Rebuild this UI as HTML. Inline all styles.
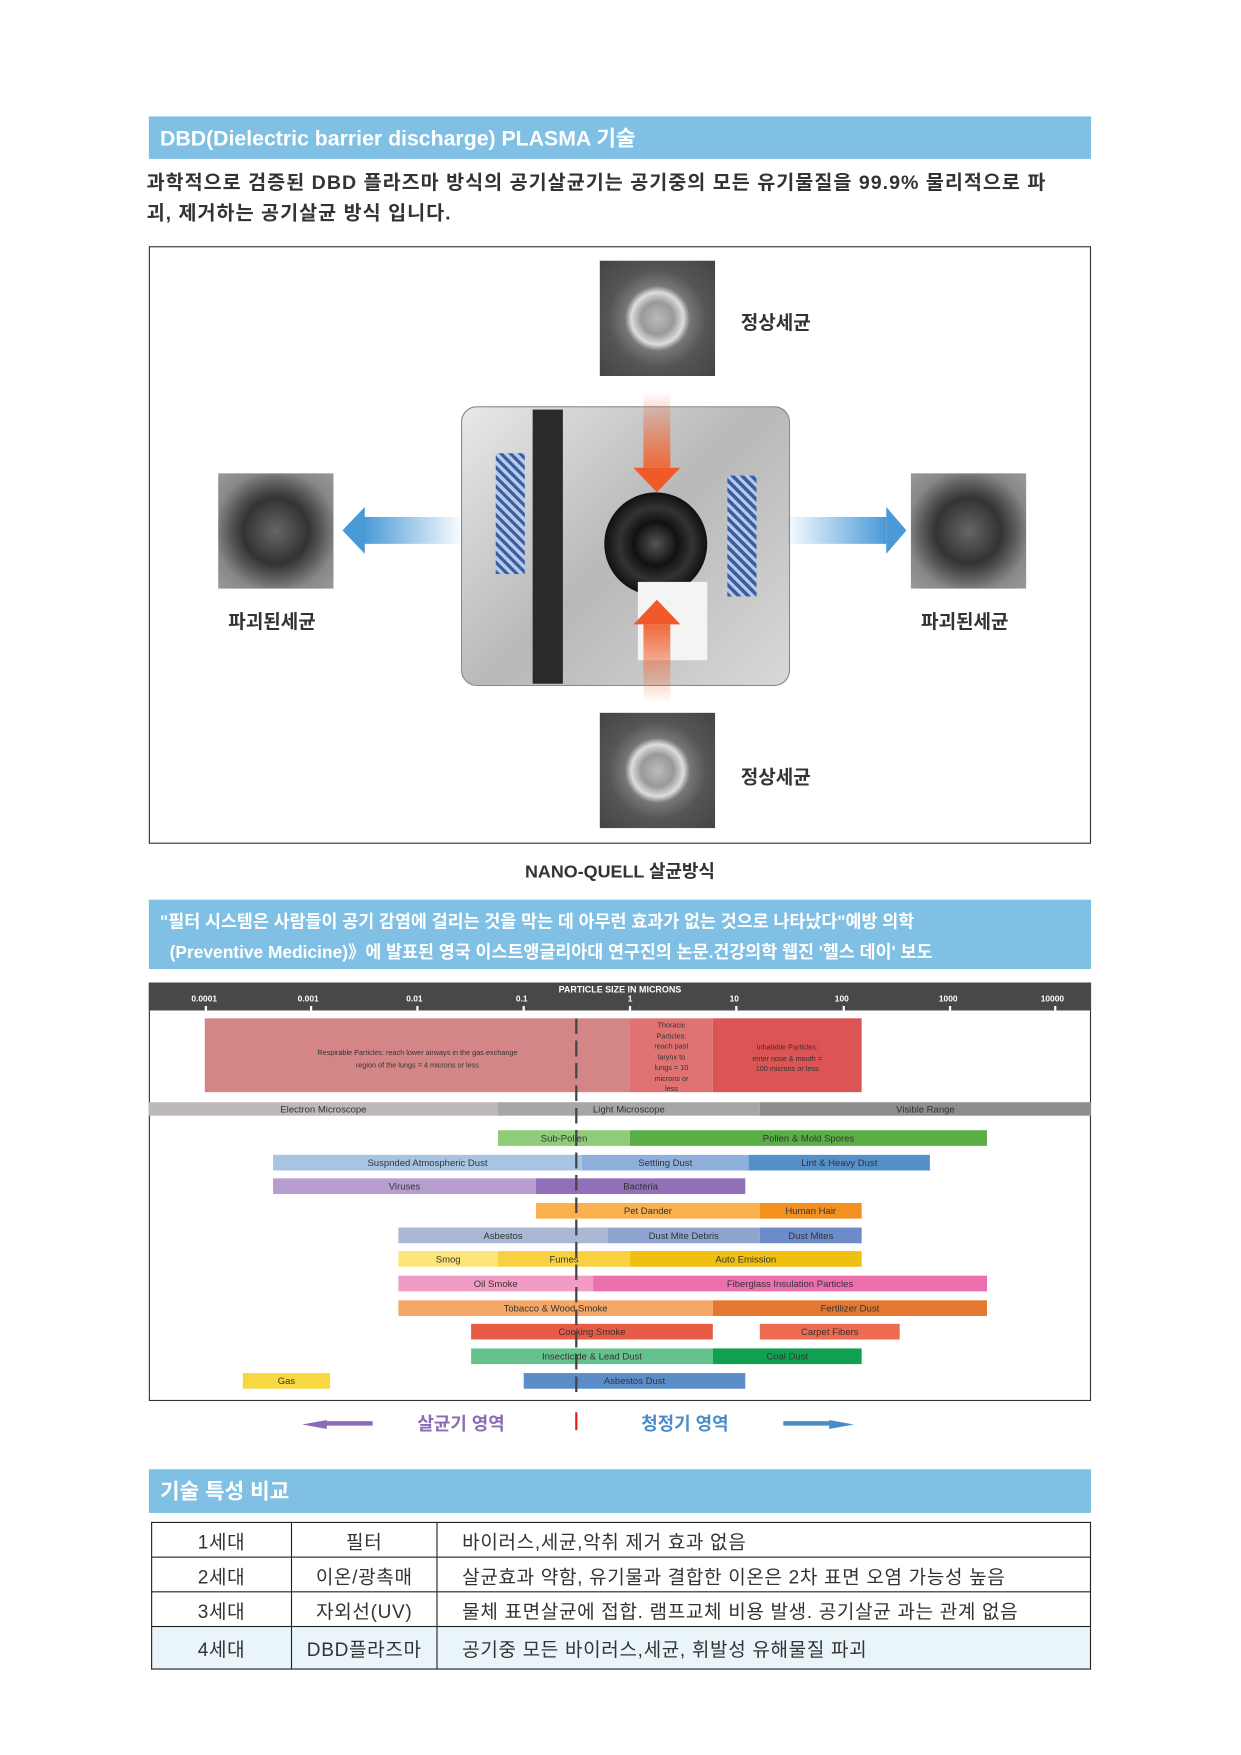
<!DOCTYPE html>
<html><head><meta charset="utf-8">
<style>
html,body{margin:0;padding:0;background:#fff;}
body{width:1241px;height:1755px;overflow:hidden;position:relative;}
#w{position:absolute;left:0;top:0;width:1109px;height:1568px;transform:scale(1.11903);transform-origin:0 0;font-family:"Liberation Sans","Noto Sans CJK KR",sans-serif;}
.a{position:absolute;}
.hd{background:#80c0e4;color:#fff;font-weight:bold;}
.bar{position:absolute;height:14px;font-size:8.5px;color:#333;text-align:center;line-height:14px;font-family:"Liberation Sans",sans-serif;}
.vir{position:absolute;width:103px;height:103px;background:radial-gradient(circle at 50% 50%,#bbb 0,#999 20%,#ddd 32%,#777 40%,#555 60%,#444 100%);}
.vir2{position:absolute;width:103px;height:103px;background:radial-gradient(circle at 50% 50%,#666 0,#333 40%,#555 55%,#888 75%,#999 100%);}
.tk{position:absolute;top:899px;width:2px;height:4px;background:#fff;}
table{border-collapse:collapse;}
td{border:1.5px solid #222;font-size:17px;color:#333;height:28px;letter-spacing:0.6px;}
</style></head><body><div id="w">
<div class="a hd" style="left:133px;top:104px;width:842px;height:38px;font-size:19px;line-height:42px;padding-left:10px;box-sizing:border-box;">DBD(Dielectric barrier discharge) PLASMA 기술</div>
<div class="a" style="left:131px;top:150px;width:900px;font-size:17.5px;font-weight:bold;color:#333;line-height:27px;letter-spacing:0.9px;white-space:nowrap;">과학적으로 검증된 DBD 플라즈마 방식의 공기살균기는 공기중의 모든 유기물질을 99.9% 물리적으로 파<br>괴, 제거하는 공기살균 방식 입니다.</div>
<div class="a" style="left:133px;top:220px;width:840px;height:532px;border:1px solid #333;"></div>
<div class="vir" style="left:536px;top:233px;"></div>
<div class="vir" style="left:536px;top:637px;"></div>
<div class="vir2" style="left:195px;top:423px;"></div>
<div class="vir2" style="left:814px;top:423px;"></div>
<div class="a" style="left:662px;top:274px;font-size:17px;font-weight:bold;color:#333;">정상세균</div>
<div class="a" style="left:662px;top:680px;font-size:17px;font-weight:bold;color:#333;">정상세균</div>
<div class="a" style="left:204px;top:541px;font-size:17px;font-weight:bold;color:#333;">파괴된세균</div>
<div class="a" style="left:823px;top:541px;font-size:17px;font-weight:bold;color:#333;">파괴된세균</div>
<div class="a" style="left:412px;top:363px;width:292px;height:248px;border-radius:14px;background:linear-gradient(135deg,#e8e8e8,#b8b8b8 50%,#d8d8d8);border:1px solid #888;"></div>
<div class="a" style="left:476px;top:366px;width:27px;height:245px;background:#2a2a2a;"></div>
<div class="a" style="left:443px;top:405px;width:26px;height:108px;background:repeating-linear-gradient(45deg,#3a5fa0 0 3px,#b8c8e8 3px 6px);"></div>
<div class="a" style="left:650px;top:425px;width:26px;height:108px;background:repeating-linear-gradient(45deg,#3a5fa0 0 3px,#b8c8e8 3px 6px);"></div>
<div class="a" style="left:540px;top:440px;width:92px;height:92px;border-radius:50%;background:radial-gradient(circle,#555 0,#111 30%,#333 50%,#111 70%);"></div>
<div class="a" style="left:570px;top:520px;width:62px;height:70px;background:#f4f4f4;"></div>
<div class="a" style="left:575px;top:350px;width:24px;height:68px;background:linear-gradient(#fff0,#f06a3a);"></div>
<div class="a" style="left:566px;top:418px;width:0;height:0;border-left:21px solid transparent;border-right:21px solid transparent;border-top:22px solid #f05a2a;"></div>
<div class="a" style="left:575px;top:558px;width:24px;height:70px;background:linear-gradient(#f06a3a,#fff0);"></div>
<div class="a" style="left:566px;top:536px;width:0;height:0;border-left:21px solid transparent;border-right:21px solid transparent;border-bottom:22px solid #f05a2a;"></div>
<div class="a" style="left:325px;top:462px;width:90px;height:24px;background:linear-gradient(90deg,#4a9ad8,#fff0);"></div>
<div class="a" style="left:306px;top:453px;width:0;height:0;border-top:21px solid transparent;border-bottom:21px solid transparent;border-right:20px solid #4a9ad8;"></div>
<div class="a" style="left:700px;top:462px;width:92px;height:24px;background:linear-gradient(90deg,#fff0,#4a9ad8);"></div>
<div class="a" style="left:792px;top:453px;width:0;height:0;border-top:21px solid transparent;border-bottom:21px solid transparent;border-left:18px solid #4a9ad8;"></div>
<div class="a" style="left:133px;top:765px;width:842px;text-align:center;font-size:16px;font-weight:bold;color:#333;">NANO-QUELL 살균방식</div>
<div class="a hd" style="left:133px;top:804px;width:842px;height:62px;font-size:15.5px;line-height:27px;padding:7px 10px;box-sizing:border-box;">"필터 시스템은 사람들이 공기 감염에 걸리는 것을 막는 데 아무런 효과가 없는 것으로 나타났다"예방 의학<br>&nbsp;&nbsp;(Preventive Medicine)》에 발표된 영국 이스트앵글리아대 연구진의 논문.건강의학 웹진 '헬스 데이' 보도</div>
<div class="a" style="left:133px;top:878px;width:840px;height:372px;border:1px solid #333;"></div>
<div class="a" style="left:133px;top:878px;width:842px;height:25px;background:#484849;color:#fff;font-size:8px;font-weight:bold;font-family:'Liberation Sans',sans-serif;">
<div class="a" style="left:0;top:2px;width:842px;text-align:center;">PARTICLE SIZE IN MICRONS</div>
</div>
<div class="tk" style="left:183px"></div><div class="tk" style="left:277px"></div><div class="tk" style="left:372px"></div><div class="tk" style="left:467px"></div><div class="tk" style="left:562px"></div><div class="tk" style="left:657px"></div><div class="tk" style="left:753px"></div><div class="tk" style="left:848px"></div><div class="tk" style="left:942px"></div>
<div class="a" style="left:0;top:888px;font-size:7.5px;color:#fff;font-weight:bold;font-family:'Liberation Sans',sans-serif;">
<span class="a" style="left:171px">0.0001</span><span class="a" style="left:266px">0.001</span><span class="a" style="left:363px">0.01</span><span class="a" style="left:461px">0.1</span><span class="a" style="left:561px">1</span><span class="a" style="left:652px">10</span><span class="a" style="left:746px">100</span><span class="a" style="left:839px">1000</span><span class="a" style="left:930px">10000</span></div>
<div class="bar" style="left:183px;top:910px;width:380px;height:66px;background:#d48686;line-height:11px;padding-top:26px;box-sizing:border-box;font-size:6.5px;">Respirable Particles: reach lower airways in the gas exchange<br>region of the lungs = 4 microns or less</div>
<div class="bar" style="left:563px;top:910px;width:74px;height:66px;background:#e07272;line-height:9.5px;font-size:6.5px;padding-top:2px;box-sizing:border-box;">Thoracic<br>Particles:<br>reach past<br>larynx to<br>lungs = 10<br>microns or<br>less</div>
<div class="bar" style="left:637px;top:910px;width:133px;height:66px;background:#dc5454;line-height:9.5px;font-size:6.5px;padding-top:22px;box-sizing:border-box;">Inhalable Particles:<br>enter nose &amp; mouth =<br>100 microns or less</div>
<div class="bar" style="left:133px;top:985px;width:312px;height:12px;line-height:12px;background:#bdb8b9;">Electron Microscope</div>
<div class="bar" style="left:445px;top:985px;width:234px;height:12px;line-height:12px;background:#a7a5a6;">Light Microscope</div>
<div class="bar" style="left:679px;top:985px;width:296px;height:12px;line-height:12px;background:#8e8c8d;">Visible Range</div>
<div class="bar" style="left:445px;top:1010px;width:118px;background:#8fcc7a;">Sub-Pollen</div>
<div class="bar" style="left:563px;top:1010px;width:319px;background:#5aae45;">Pollen &amp; Mold Spores</div>
<div class="bar" style="left:244px;top:1032px;width:276px;background:#a8c4e4;">Suspnded Atmospheric Dust</div>
<div class="bar" style="left:520px;top:1032px;width:149px;background:#8fb0db;">Settling Dust</div>
<div class="bar" style="left:669px;top:1032px;width:162px;background:#5590c8;">Lint &amp; Heavy Dust</div>
<div class="bar" style="left:244px;top:1053px;width:235px;background:#b89ed0;">Viruses</div>
<div class="bar" style="left:479px;top:1053px;width:187px;background:#9070b8;">Bacteria</div>
<div class="bar" style="left:479px;top:1075px;width:200px;background:#fbb050;">Pet Dander</div>
<div class="bar" style="left:679px;top:1075px;width:91px;background:#f39020;">Human Hair</div>
<div class="bar" style="left:356px;top:1097px;width:187px;background:#a9b8d4;">Asbestos</div>
<div class="bar" style="left:543px;top:1097px;width:136px;background:#8fa5cf;">Dust Mite Debris</div>
<div class="bar" style="left:679px;top:1097px;width:91px;background:#6b8cc8;">Dust Mites</div>
<div class="bar" style="left:356px;top:1118px;width:89px;background:#fce57a;">Smog</div>
<div class="bar" style="left:445px;top:1118px;width:118px;background:#f8d040;">Fumes</div>
<div class="bar" style="left:563px;top:1118px;width:207px;background:#f0c010;">Auto Emission</div>
<div class="bar" style="left:356px;top:1140px;width:174px;background:#f29cc4;">Oil Smoke</div>
<div class="bar" style="left:530px;top:1140px;width:352px;background:#ec6fae;">Fiberglass Insulation Particles</div>
<div class="bar" style="left:356px;top:1162px;width:281px;background:#f4a766;">Tobacco &amp; Wood Smoke</div>
<div class="bar" style="left:637px;top:1162px;width:245px;background:#e57830;">Fertilizer Dust</div>
<div class="bar" style="left:421px;top:1183px;width:216px;background:#e85c47;">Cooking Smoke</div>
<div class="bar" style="left:679px;top:1183px;width:125px;background:#ee6a50;">Carpet Fibers</div>
<div class="bar" style="left:421px;top:1205px;width:216px;background:#66c28c;">Insecticide &amp; Lead Dust</div>
<div class="bar" style="left:637px;top:1205px;width:133px;background:#10a050;">Coal Dust</div>
<div class="bar" style="left:217px;top:1227px;width:78px;background:#f8d840;">Gas</div>
<div class="bar" style="left:468px;top:1227px;width:198px;background:#5b8ec8;">Asbestos Dust</div>
<div class="a" style="left:514px;top:910px;width:2px;height:340px;background:repeating-linear-gradient(#444 0 14px,transparent 14px 20px);"></div>
<div class="a" style="left:270px;top:1269px;width:0;height:0;border-top:4px solid transparent;border-bottom:4px solid transparent;border-right:22px solid #8a6cb4;"></div>
<div class="a" style="left:290px;top:1270px;width:43px;height:4px;background:#8a6cb4;"></div>
<div class="a" style="left:373px;top:1259px;font-size:16px;color:#8a6cb4;font-weight:bold;">살균기 영역</div>
<div class="a" style="left:514px;top:1262px;width:2px;height:16px;background:#e02020;"></div>
<div class="a" style="left:573px;top:1259px;font-size:16px;color:#4a8cc8;font-weight:bold;">청정기 영역</div>
<div class="a" style="left:700px;top:1270px;width:43px;height:4px;background:#4a8cc8;"></div>
<div class="a" style="left:741px;top:1269px;width:0;height:0;border-top:4px solid transparent;border-bottom:4px solid transparent;border-left:22px solid #4a8cc8;"></div>
<div class="a hd" style="left:133px;top:1313px;width:842px;height:39px;font-size:19px;line-height:42px;padding-left:10px;box-sizing:border-box;">기술 특성 비교</div>
<table class="a" style="left:135px;top:1360px;width:840px;">
<tr><td style="width:122px;text-align:center;">1세대</td><td style="width:127px;text-align:center;">필터</td><td style="padding-left:22px;">바이러스,세균,악취 제거 효과 없음</td></tr>
<tr><td style="text-align:center;">2세대</td><td style="text-align:center;">이온/광촉매</td><td style="padding-left:22px;">살균효과 약함, 유기물과 결합한 이온은 2차 표면 오염 가능성 높음</td></tr>
<tr><td style="text-align:center;">3세대</td><td style="text-align:center;">자외선(UV)</td><td style="padding-left:22px;">물체 표면살균에 접합. 램프교체 비용 발생. 공기살균 과는 관계 없음</td></tr>
<tr style="background:#eaf5fa;"><td style="text-align:center;height:35px;">4세대</td><td style="text-align:center;">DBD플라즈마</td><td style="padding-left:22px;">공기중 모든 바이러스,세균, 휘발성 유해물질 파괴</td></tr>
</table>
</div></body></html>
